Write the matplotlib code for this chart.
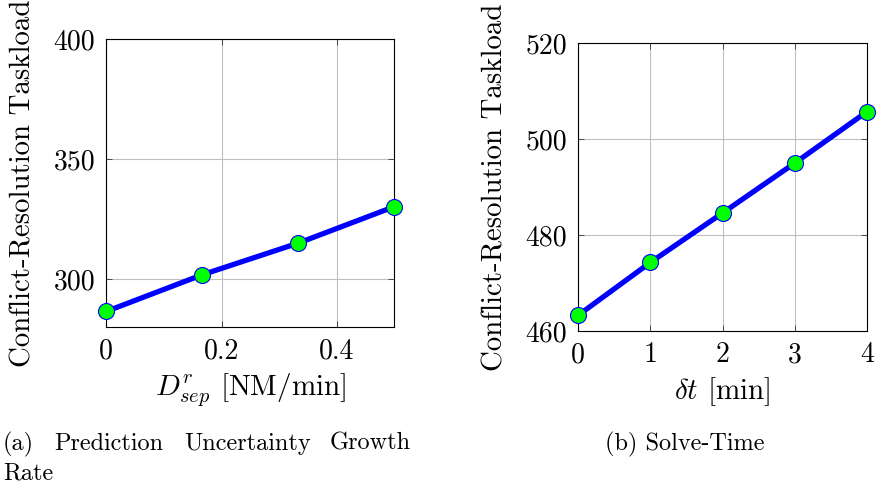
import matplotlib
matplotlib.use("Agg")
import matplotlib.pyplot as plt

plt.rcParams["font.family"] = ["cmr10", "DejaVu Serif"]
plt.rcParams["mathtext.fontset"] = "cm"
plt.rcParams["axes.formatter.use_mathtext"] = True

# (a) prediction uncertainty growth rate
growth_rate = [0.0, 0.1667, 0.3333, 0.5]
taskload_growth = [286.5, 301.8, 315.0, 330.2]
growth_xticks = [0.0, 0.2, 0.4]
growth_xticklabels = ["0", "0.2", "0.4"]
growth_yticks = [300, 350, 400]

# (b) solve time
solve_time = [0, 1, 2, 3, 4]
taskload_solve = [463.3, 474.3, 484.6, 495.0, 505.7]
solve_xticks = [0, 1, 2, 3, 4]
solve_yticks = [460, 480, 500, 520]

W, H = 877, 488
fig = plt.figure(figsize=(W / 100, H / 100), dpi=100)


def px_axes(x0, y0, x1, y1):
    return fig.add_axes([x0 / W, 1 - y1 / H, (x1 - x0) / W, (y1 - y0) / H])


ax_a = px_axes(106.3, 39.3, 394.3, 327.0)
ax_b = px_axes(578.3, 43.3, 866.7, 331.0)

TICK_FS = 20
LABEL_FS = 20.8
LINE = dict(color="#0000ff", lw=3.8, marker="o", ms=11.5,
            markerfacecolor="#00ff00", markeredgecolor="#0000ff",
            markeredgewidth=0.8, clip_on=False, zorder=3)


def style(ax):
    ax.grid(True, color="#bfbfbf", lw=0.8)
    ax.set_axisbelow(True)
    ax.tick_params(direction="in", length=4, width=0.6, top=True, right=True,
                   labelsize=TICK_FS, pad=8, color="#333333")
    for s in ax.spines.values():
        s.set_linewidth(0.8)
        s.set_color("black")


ax_a.plot(growth_rate, taskload_growth, **LINE)
ax_a.set_xlim(0, 0.5)
ax_a.set_ylim(280, 400)
ax_a.set_xticks(growth_xticks)
ax_a.set_xticklabels(growth_xticklabels)
ax_a.set_yticks(growth_yticks)
ax_a.set_yticklabels([str(v) for v in growth_yticks])
style(ax_a)
ax_a.set_xlabel(r"$D^r_{sep}$ [NM/min]", fontsize=21, labelpad=5)
ax_a.set_ylabel("Conflict-Resolution Taskload", fontsize=LABEL_FS)
ax_a.yaxis.set_label_coords(-0.243, 0.5)

ax_b.plot(solve_time, taskload_solve, **LINE)
ax_b.set_xlim(0, 4)
ax_b.set_ylim(460, 520)
ax_b.set_xticks(solve_xticks)
ax_b.set_xticklabels([str(v) for v in solve_xticks])
ax_b.set_yticks(solve_yticks)
ax_b.set_yticklabels([str(v) for v in solve_yticks])
style(ax_b)
ax_b.set_xlabel(r"$\delta t$ [min]", fontsize=21, labelpad=5)
ax_b.set_ylabel("Conflict-Resolution Taskload", fontsize=LABEL_FS)
ax_b.yaxis.set_label_coords(-0.243, 0.5)

# Sub-captions
CAP_FS = 17.5
for word, xpx in [("(a)", 3), ("Prediction", 54), ("Uncertainty", 184), ("Growth", 330)]:
    fig.text(xpx / W, 1 - 450 / H, word, fontsize=CAP_FS, va="baseline", ha="left")
fig.text(3 / W, 1 - 480 / H, "Rate", fontsize=CAP_FS, va="baseline", ha="left")
fig.text(605 / W, 1 - 450 / H, "(b) Solve-Time", fontsize=CAP_FS, va="baseline", ha="left")

fig.savefig("out.png", dpi=100)
